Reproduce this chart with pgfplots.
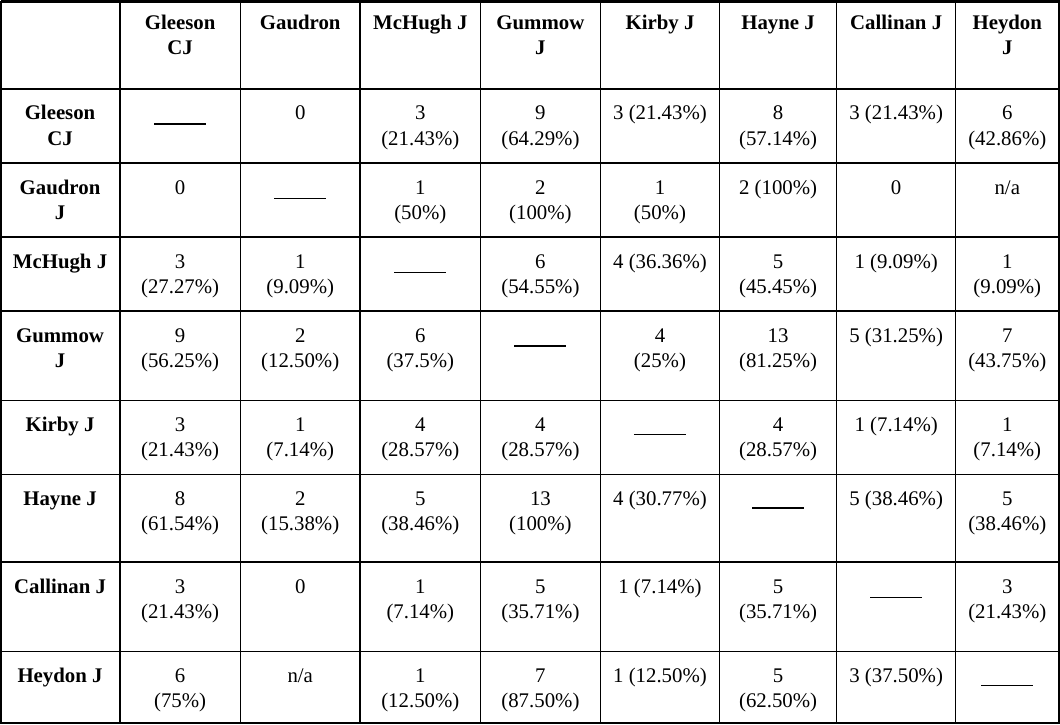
\documentclass[border=0pt]{standalone}
\usepackage{fontspec}
\setmainfont{Liberation Serif}
\usepackage{pgfplots}
\usepackage{pgfplotstable}
\pgfplotsset{compat=1.18}

\pgfplotstableread[col sep=comma]{
x,y,t
180,30,Gleeson
300,30,Gaudron
420,30,McHugh J
540,30,Gummow
659.5,30,Kirby J
777.5,30,Hayne J
895.5,30,Callinan J
1006.5,30,Heydon
180,55,CJ
540,55,J
1006.5,55,J
60,120,Gleeson
60,145,CJ
60,194,Gaudron
60,219,J
60,268,McHugh J
60,342,Gummow
60,367,J
60,431,Kirby J
60,505,Hayne J
60,593,Callinan J
60,682,Heydon J
}\boldtab

\pgfplotstableread[col sep=comma]{
x,y,t
300,120,0
420,120,3
540,120,9
659.5,120,3 (21.43\%)
777.5,120,8
895.5,120,3 (21.43\%)
1006.5,120,6
420,145,(21.43\%)
540,145,(64.29\%)
777.5,145,(57.14\%)
1006.5,145,(42.86\%)
180,194,0
420,194,1
540,194,2
659.5,194,1
777.5,194,2 (100\%)
895.5,194,0
1006.5,194,n/a
420,219,(50\%)
540,219,(100\%)
659.5,219,(50\%)
180,268,3
300,268,1
540,268,6
659.5,268,4 (36.36\%)
777.5,268,5
895.5,268,1 (9.09\%)
1006.5,268,1
180,293,(27.27\%)
300,293,(9.09\%)
540,293,(54.55\%)
777.5,293,(45.45\%)
1006.5,293,(9.09\%)
180,342,9
300,342,2
420,342,6
659.5,342,4
777.5,342,13
895.5,342,5 (31.25\%)
1006.5,342,7
180,367,(56.25\%)
300,367,(12.50\%)
420,367,(37.5\%)
659.5,367,(25\%)
777.5,367,(81.25\%)
1006.5,367,(43.75\%)
180,431,3
300,431,1
420,431,4
540,431,4
777.5,431,4
895.5,431,1 (7.14\%)
1006.5,431,1
180,456,(21.43\%)
300,456,(7.14\%)
420,456,(28.57\%)
540,456,(28.57\%)
777.5,456,(28.57\%)
1006.5,456,(7.14\%)
180,505,8
300,505,2
420,505,5
540,505,13
659.5,505,4 (30.77\%)
895.5,505,5 (38.46\%)
1006.5,505,5
180,530,(61.54\%)
300,530,(15.38\%)
420,530,(38.46\%)
540,530,(100\%)
1006.5,530,(38.46\%)
180,593,3
300,593,0
420,593,1
540,593,5
659.5,593,1 (7.14\%)
777.5,593,5
1006.5,593,3
180,618,(21.43\%)
420,618,(7.14\%)
540,618,(35.71\%)
777.5,618,(35.71\%)
1006.5,618,(21.43\%)
180,682,6
300,682,n/a
420,682,1
540,682,7
659.5,682,1 (12.50\%)
777.5,682,5
895.5,682,3 (37.50\%)
180,707,(75\%)
420,707,(12.50\%)
540,707,(87.50\%)
777.5,707,(62.50\%)
}\normtab

\begin{document}
\begin{tikzpicture}
\begin{axis}[
  scale only axis, width=1060pt, height=725pt,
  xmin=0, xmax=1060, ymin=0, ymax=725, y dir=reverse,
  axis lines=none, clip=false,
  unbounded coords=jump,
  nodes near coords style={anchor=base, inner sep=0pt, font=\fontsize{20.8}{25}\selectfont},
]
% interior vertical lines
\addplot[black, line width=1.3pt] coordinates {
 (120,1)(120,723) (nan,nan) (240,1)(240,723) (nan,nan)
 (480,1)(480,723) (nan,nan) (600,1)(600,723) (nan,nan)
 (836,1)(836,723) (nan,nan) (955,1)(955,723)};
\addplot[black, line width=1.8pt] coordinates {
 (360,1)(360,723) (nan,nan) (719,1)(719,723)};
% interior horizontal lines
\addplot[black, line width=1.3pt] coordinates {
 (1,89)(1058,89) (nan,nan) (1,163)(1058,163) (nan,nan)
 (1,311)(1058,311) (nan,nan) (1,400)(1058,400) (nan,nan)
 (1,474)(1058,474) (nan,nan) (1,651)(1058,651)};
\addplot[black, line width=1.8pt] coordinates {
 (1,237)(1058,237) (nan,nan) (1,562)(1058,562)};
% outer border
\addplot[black, line width=2.4pt] coordinates {
 (1.2,1.5)(1058,1.5)(1058,722.8)(1.2,722.8)(1.2,1.5)};
% diagonal dashes
\addplot[black, line width=1.1pt] coordinates {
 (154,124)(206,124) (nan,nan) (274,198)(326,198) (nan,nan)
 (394,272)(446,272) (nan,nan) (633.5,434)(685.5,434) (nan,nan)
 (869.5,597)(921.5,597) (nan,nan) (980.5,685)(1032.5,685)};
\addplot[black, line width=2pt] coordinates {
 (514,346)(566,346) (nan,nan) (751.5,508)(803.5,508)};
% texts
\addplot[draw=none, mark=none, nodes near coords, point meta=explicit symbolic,
  nodes near coords style={font=\fontsize{20.8}{25}\selectfont\bfseries}]
  table[x=x, y=y, meta=t] {\boldtab};
\addplot[draw=none, mark=none, nodes near coords, point meta=explicit symbolic]
  table[x=x, y=y, meta=t] {\normtab};
\end{axis}
\end{tikzpicture}
\end{document}
